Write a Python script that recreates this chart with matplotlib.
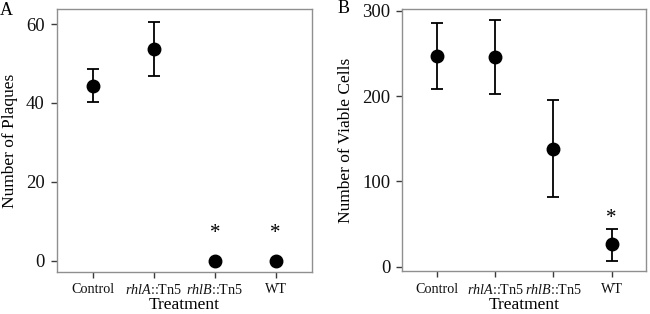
import matplotlib
matplotlib.use("Agg")
import matplotlib.pyplot as plt

plt.rcParams['font.family'] = ['Liberation Serif', 'DejaVu Serif']
plt.rcParams['mathtext.fontset'] = 'custom'
plt.rcParams['mathtext.rm'] = 'Liberation Serif'
plt.rcParams['mathtext.it'] = 'Liberation Serif:italic'

treatments = ['Control', r'$\it{rhlA}$::Tn5', r'$\it{rhlB}$::Tn5', 'WT']

# panel A: plaques
plaques_mean = [44.3, 53.6, 0.0, 0.0]
plaques_low = [40.1, 46.7, 0.0, 0.0]
plaques_high = [48.7, 60.6, 0.0, 0.0]
plaques_star = [None, None, 6.8, 6.8]

# panel B: viable cells
cells_mean = [247, 246, 138.5, 26.3]
cells_low = [208.7, 203, 81.6, 7]
cells_high = [285.5, 289.4, 196, 44.7]
cells_star = [None, None, None, 57]

FRAME = '#8f8f8f'
TICK = '#3a3a3a'


def draw_panel(ax, mean, low, high, stars, ylim, yticks, ylabel):
    x = list(range(1, len(treatments) + 1))
    # only draw error bars where there is a spread
    idx = [i for i in range(len(x)) if high[i] > low[i]]
    ax.errorbar([x[i] for i in idx], [mean[i] for i in idx],
                yerr=[[mean[i] - low[i] for i in idx], [high[i] - mean[i] for i in idx]],
                fmt='none', ecolor='black', elinewidth=1.3, capsize=4.5,
                capthick=1.3, zorder=2)
    ax.plot(x, mean, 'o', color='black', markersize=9, zorder=3)
    for xi, s in zip(x, stars):
        if s is not None:
            ax.text(xi, s, '*', ha='center', va='center', fontsize=15)
    ax.set_xlim(0.4, 4.6)
    ax.set_ylim(*ylim)
    ax.set_xticks(x)
    ax.set_xticklabels(treatments, fontsize=10.2)
    ax.set_yticks(yticks)
    ax.tick_params(axis='y', labelsize=13.5, length=4, width=1, color=TICK,
                   labelcolor='#111111', pad=4.5)
    ax.tick_params(axis='x', length=4.5, width=1, color=TICK,
                   labelcolor='#111111', pad=4)
    for sp in ax.spines.values():
        sp.set_color(FRAME)
        sp.set_linewidth(1)
    ax.set_xlabel('Treatment', fontsize=12.5, labelpad=0)
    ax.set_ylabel(ylabel, fontsize=12.5, labelpad=6)


fig = plt.figure(figsize=(6.5, 3.14), dpi=100)
axA = fig.add_axes([0.0872, 0.135, 0.3928, 0.835])
axB = fig.add_axes([0.619, 0.137, 0.3755, 0.833])

draw_panel(axA, plaques_mean, plaques_low, plaques_high, plaques_star,
           (-2.8, 63.7), [0, 20, 40, 60], 'Number of Plaques')
draw_panel(axB, cells_mean, cells_low, cells_high, cells_star,
           (-5, 301.6), [0, 100, 200, 300], 'Number of Viable Cells')

fig.text(0.009, 0.968, 'A', fontsize=13, va='center', ha='center')
fig.text(0.529, 0.972, 'B', fontsize=13, va='center', ha='center')

fig.savefig('out.png', dpi=100)
